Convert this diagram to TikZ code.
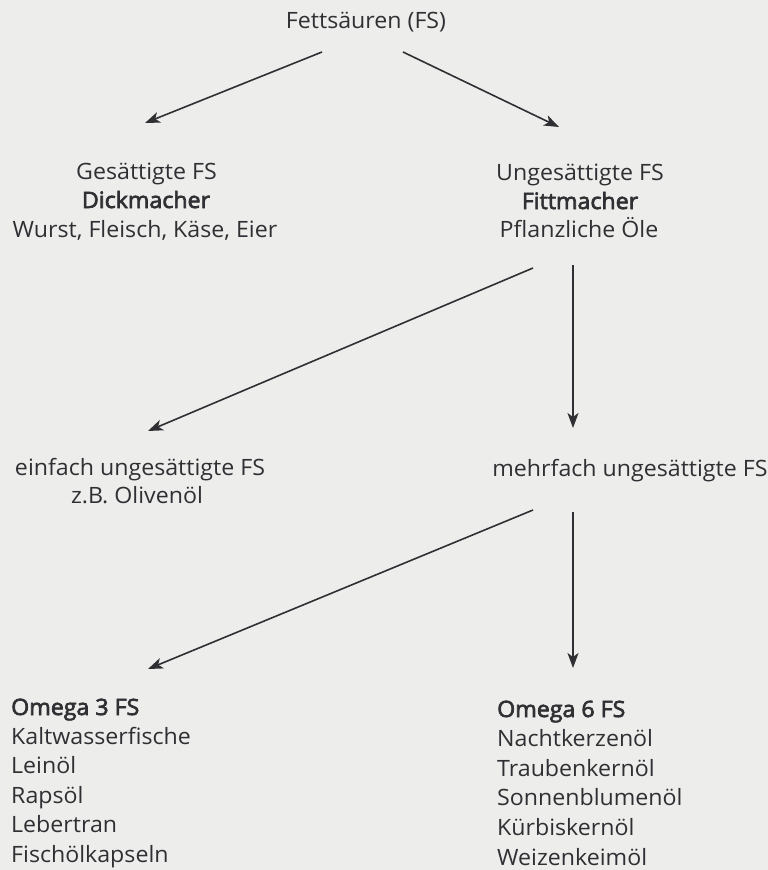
\documentclass[tikz,border=0pt]{standalone}
\usepackage{fontspec}
\setmainfont[FakeStretch=1.03,BoldFont={Open Sans},BoldFeatures={FakeBold=3}]{Open Sans}
\usetikzlibrary{arrows.meta}
\definecolor{bg}{RGB}{237,237,235}
\definecolor{ink}{RGB}{48,48,52}
\begin{document}
\begin{tikzpicture}[x=1pt,y=-1pt,
  txt/.style={text=ink,font=\fontsize{22.5}{29}\selectfont,inner sep=0pt,anchor=base},
  lst/.style={txt,anchor=base west},
  arr/.style={draw=ink,line width=1.6pt,-{Stealth[length=15pt,width=11pt,inset=4pt]}}]
\fill[bg] (0,0) rectangle (768,870);
\node[txt] (fs) at (366,28) {Fettsäuren (FS)};
\node[txt] (ges1) at (146.5,179) {Gesättigte FS};
\node[txt] (ges2) at (146,208) {\textbf{Dickmacher}};
\node[txt] (ges3) at (145,237) {Wurst, Fleisch, Käse, Eier};
\node[txt] (ung1) at (580,180) {Ungesättigte FS};
\node[txt] (ung2) at (580,209) {\textbf{Fittmacher}};
\node[txt] (ung3) at (579,237) {Pflanzliche Öle};
\node[txt] (ein1) at (140,475) {einfach ungesättigte FS};
\node[txt] (ein2) at (137,503) {z.B. Olivenöl};
\node[txt] (mehr) at (630,476) {mehrfach ungesättigte FS};
\foreach \t [count=\i from 0] in {\textbf{Omega 3 FS},Kaltwasserfische,Leinöl,Rapsöl,Lebertran,Fischölkapseln}
  \node[lst] (omdrei\i) at (11,715+\i*29.4) {\t};
\foreach \t [count=\i from 0] in {\textbf{Omega 6 FS},Nachtkerzenöl,Traubenkernöl,Sonnenblumenöl,Kürbiskernöl,Weizenkeimöl}
  \node[lst] (omsechs\i) at (497,717+\i*29.6) {\t};
\coordinate (a1s) at (322,52); \coordinate (a1e) at (145,123);
\coordinate (a2s) at (403,52); \coordinate (a2e) at (559,127);
\coordinate (a3s) at (533,268); \coordinate (a3e) at (148,431);
\coordinate (a4s) at (573,265); \coordinate (a4e) at (573,428);
\coordinate (a5s) at (533,510); \coordinate (a5e) at (148,669);
\coordinate (a6s) at (573,512); \coordinate (a6e) at (573,668);
\draw[arr] (a1s) -- (a1e);
\draw[arr] (a2s) -- (a2e);
\draw[arr] (a3s) -- (a3e);
\draw[arr] (a4s) -- (a4e);
\draw[arr] (a5s) -- (a5e);
\draw[arr] (a6s) -- (a6e);
\end{tikzpicture}
\end{document}
